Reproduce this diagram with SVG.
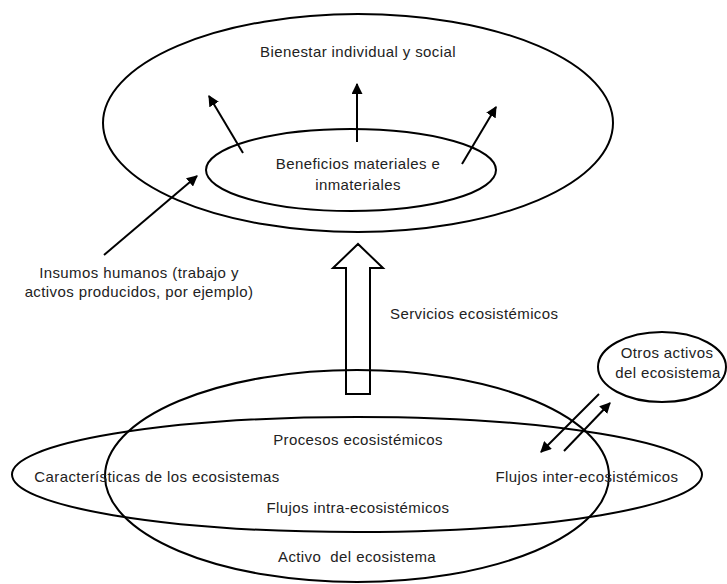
<svg xmlns="http://www.w3.org/2000/svg" width="727" height="584" viewBox="0 0 727 584">
<style>
.sh{fill:none;stroke:#000;stroke-width:2}
.ln{fill:none;stroke:#000;stroke-width:2}
.t{font-family:"Liberation Sans",Arial,sans-serif;font-size:15px;letter-spacing:0.4px;fill:#222;text-anchor:middle}
</style>
<defs>
<marker id="ah" viewBox="0 0 10 10" refX="9" refY="5" markerWidth="5.5" markerHeight="5.5" orient="auto" markerUnits="strokeWidth">
<path d="M0,0 L10,5 L0,10 z" fill="#000"/>
</marker>
</defs>
<rect width="727" height="584" fill="#fff"/>
<g id="bienestar">
<ellipse class="sh" cx="358" cy="123" rx="255" ry="109"/>
<text class="t" x="358" y="57">Bienestar individual y social</text>
</g>
<g id="beneficios">
<ellipse class="sh" cx="351" cy="170" rx="145" ry="41"/>
<text class="t" x="358" y="169">Beneficios materiales e</text>
<text class="t" x="358" y="190">inmateriales</text>
</g>
<g id="insumos">
<text class="t" x="139" y="278">Insumos humanos (trabajo y</text>
<text class="t" x="139" y="297">activos producidos, por ejemplo)</text>
</g>
<g id="servicios">
<path class="sh" d="M346,394 L346,268 L333,268 L358,244 L383,268 L370,268 L370,394 Z" style="fill:#fff"/>
<text class="t" x="390" y="319" style="text-anchor:start">Servicios ecosistémicos</text>
</g>
<g id="activo">
<ellipse class="sh" cx="357" cy="476" rx="252" ry="106"/>
<text class="t" x="357" y="562" xml:space="preserve">Activo  del ecosistema</text>
</g>
<g id="caracteristicas">
<ellipse class="sh" cx="357" cy="474.5" rx="345" ry="57.5"/>
<text class="t" x="157" y="482">Características de los ecosistemas</text>
<text class="t" x="358" y="445">Procesos ecosistémicos</text>
<text class="t" x="358" y="513">Flujos intra-ecosistémicos</text>
<text class="t" x="587" y="482">Flujos inter-ecosistémicos</text>
</g>
<g id="otros">
<ellipse class="sh" cx="662" cy="367" rx="64" ry="35"/>
<text class="t" x="667" y="358">Otros activos</text>
<text class="t" x="668" y="378">del ecosistema</text>
</g>
<g id="connectors">
<line class="ln" x1="243" y1="153" x2="209" y2="96" marker-end="url(#ah)"/>
<line class="ln" x1="357" y1="142" x2="357" y2="84" marker-end="url(#ah)"/>
<line class="ln" x1="462" y1="164" x2="496" y2="107" marker-end="url(#ah)"/>
<line class="ln" x1="104" y1="255" x2="197" y2="176" marker-end="url(#ah)"/>
<line class="ln" x1="599" y1="394" x2="541" y2="452" marker-end="url(#ah)"/>
<line class="ln" x1="564" y1="451" x2="610" y2="403" marker-end="url(#ah)"/>
</g>
</svg>
